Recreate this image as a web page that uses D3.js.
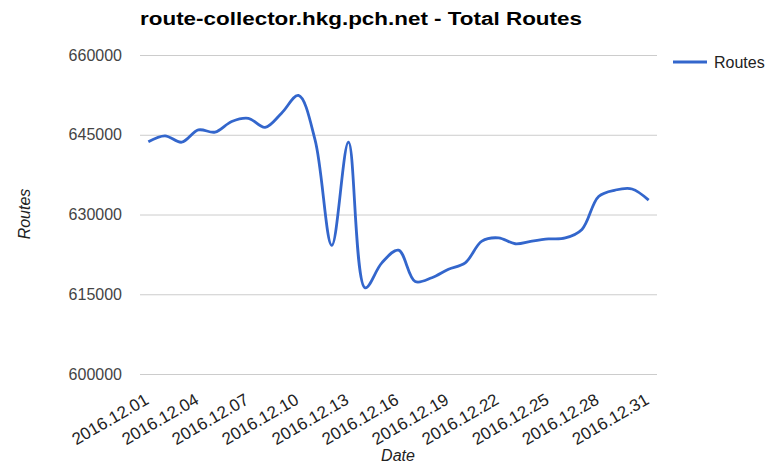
<!DOCTYPE html>
<html><head><meta charset="utf-8">
<script src="https://cdn.jsdelivr.net/npm/d3@7/dist/d3.min.js"></script>
<style>
body{margin:0;background:#fff;}
svg{display:block;font-family:"Liberation Sans",Arial,sans-serif;}
</style></head>
<body><svg id="c" width="777" height="466"></svg>
<script>
const dates = ["2016.12.01","2016.12.02","2016.12.03","2016.12.04","2016.12.05","2016.12.06","2016.12.07","2016.12.08","2016.12.09","2016.12.10","2016.12.11","2016.12.12","2016.12.13","2016.12.14","2016.12.15","2016.12.16","2016.12.17","2016.12.18","2016.12.19","2016.12.20","2016.12.21","2016.12.22","2016.12.23","2016.12.24","2016.12.25","2016.12.26","2016.12.27","2016.12.28","2016.12.29","2016.12.30","2016.12.31"];
const routes = [643700,644800,643600,645900,645500,647500,648100,646400,649100,652400,644000,624200,643600,616200,620900,623300,617400,618100,619700,620900,625000,625600,624500,625000,625400,625600,627200,633400,634600,634800,632700];
const yTicks = [600000,615000,630000,645000,660000];
const xTickLabels = ["2016.12.01","2016.12.04","2016.12.07","2016.12.10","2016.12.13","2016.12.16","2016.12.19","2016.12.22","2016.12.25","2016.12.28","2016.12.31"];
const title = "route-collector.hkg.pch.net - Total Routes";
const seriesName = "Routes";

const svg = d3.select("#c");
const L = 140, R = 657, T = 55, B = 374;
const x = d3.scalePoint().domain(dates).range([L, R]).padding(0.5);
const y = d3.scaleLinear().domain([600000, 660000]).range([B, T]);

svg.append("text").attr("x", 140).attr("y", 25).attr("font-size", 18).attr("font-weight", "bold")
  .attr("fill", "#000").attr("textLength", 442).attr("lengthAdjust", "spacingAndGlyphs").text(title);

const yAxis = d3.axisLeft(y).tickValues(yTicks).tickSize(-(R - L)).tickPadding(18).tickFormat(d3.format("d"));
const gy = svg.append("g").attr("transform", `translate(${L},0)`).call(yAxis);
gy.select(".domain").remove();
gy.selectAll(".tick line").attr("stroke", "#cccccc").attr("stroke-width", 1);
gy.selectAll(".tick text").attr("font-size", 16).attr("fill", "#444").attr("font-family", "Liberation Sans, Arial, sans-serif");

const xAxis = d3.axisBottom(x).tickValues(xTickLabels).tickSize(0).tickPadding(0);
const gx = svg.append("g").attr("transform", `translate(0,${B})`).call(xAxis);
gx.select(".domain").remove();
gx.selectAll(".tick text").attr("font-size", 17).attr("fill", "#222").attr("font-family", "Liberation Sans, Arial, sans-serif")
  .attr("text-anchor", "end").attr("dy", null).attr("y", null)
  .attr("transform", "translate(1,29) rotate(-30)");

const line = d3.line().x((d, i) => x(dates[i])).y(d => y(d)).curve(d3.curveCatmullRom.alpha(0.5));
svg.append("path").datum(routes).attr("d", line).attr("fill", "none").attr("stroke", "#3366cc").attr("stroke-width", 2.8);

svg.append("text").attr("transform", "translate(30,214) rotate(-90)").attr("text-anchor", "middle")
  .attr("font-size", 16).attr("font-style", "italic").attr("fill", "#222").text("Routes");
svg.append("text").attr("x", 398).attr("y", 461).attr("text-anchor", "middle")
  .attr("font-size", 16).attr("font-style", "italic").attr("fill", "#222").text("Date");

svg.append("line").attr("x1", 673).attr("x2", 707).attr("y1", 62).attr("y2", 62).attr("stroke", "#3366cc").attr("stroke-width", 2.8);
svg.append("text").attr("x", 714).attr("y", 68).attr("font-size", 16).attr("fill", "#222").text(seriesName);
</script></body></html>
